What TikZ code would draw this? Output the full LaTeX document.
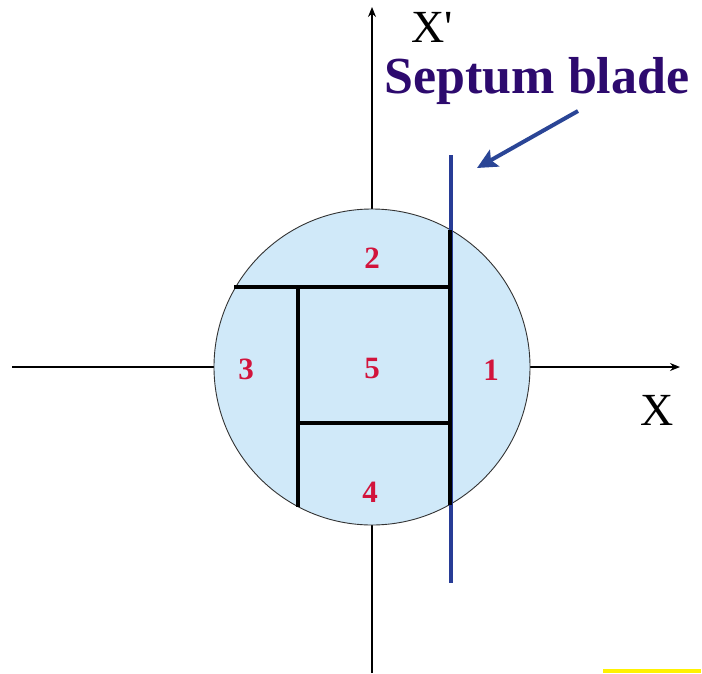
\documentclass[tikz,border=0pt]{standalone}
\usepackage{fontspec}
\setmainfont{Liberation Serif}
\usepackage{xcolor}
\usetikzlibrary{arrows.meta}
\definecolor{beamblue}{HTML}{D0E9F9}
\definecolor{bladeblue}{HTML}{283C96}
\definecolor{pointblue}{HTML}{2A4596}
\definecolor{septpurple}{HTML}{2D0A6E}
\definecolor{zonered}{HTML}{D2143C}
\definecolor{markyellow}{HTML}{FFF200}
\tikzset{
  axis/.style={
    -{Stealth[length=10pt,width=8pt]},
    line width=1.4pt,
    draw=black
  },
  beam/.style={
    circle,
    draw=black!80,
    line width=0.9pt,
    fill=beamblue,
    minimum size=316pt,
    inner sep=0pt
  },
  cut/.style={
    line width=4.5pt,
    draw=black
  },
  blade/.style={
    line width=4pt,
    draw=bladeblue
  },
  pointer/.style={
    -{Stealth[length=20pt,width=19pt,inset=4pt]},
    line width=4pt,
    draw=pointblue
  },
  zone/.style={
    font=\fontsize{31}{33}\selectfont\bfseries,
    text=zonered
  },
  axlabel/.style={
    font=\fontsize{46}{50}\selectfont,
    inner sep=1pt
  },
  title/.style={
    font=\fontsize{52}{58}\selectfont\bfseries,
    text=septpurple,
    inner sep=1pt
  }
}

\begin{document}
\begin{tikzpicture}[x=1pt,y=-1pt]

\useasboundingbox (0,0) rectangle (702,673);

% axes
\coordinate (xleft) at (12,367);
\coordinate (xright) at (680,367);
\coordinate (ybottom) at (372,673);
\coordinate (ytop) at (372,7);
\draw[axis] (xleft) -- (xright);
\draw[axis] (ybottom) -- (ytop);

% beam cross-section
\node[beam] (beam) at (372,367) {};

% septum blade
\coordinate (bladetop) at (451,155);
\coordinate (bladebottom) at (451,583);
\draw[blade] (bladetop) -- (bladebottom);

% partition
\draw[cut] (450,230) -- (450,505);
\draw[cut] (234,287) -- (450,287);
\draw[cut] (298,287) -- (298,507);
\draw[cut] (298,423) -- (450,423);

% zone numbers
\node[zone] (z1) at (491,370) {1};
\node[zone] (z2) at (372,258) {2};
\node[zone] (z3) at (246,369) {3};
\node[zone] (z4) at (370,492) {4};
\node[zone] (z5) at (372,368) {5};

% labels
\node[axlabel, anchor=base] (xlab) at (657,425) {X};
\node[axlabel, anchor=base west] (xplab) at (410,42) {X\textquotesingle};
\node[title, anchor=base] (septum) at (537,93) {Septum blade};

\coordinate (tail) at (578,111);
\coordinate (tip) at (477,168);
\draw[pointer] (tail) -- (tip);

% yellow mark
\fill[markyellow] (603,669) rectangle (701,673);

\end{tikzpicture}
\end{document}
